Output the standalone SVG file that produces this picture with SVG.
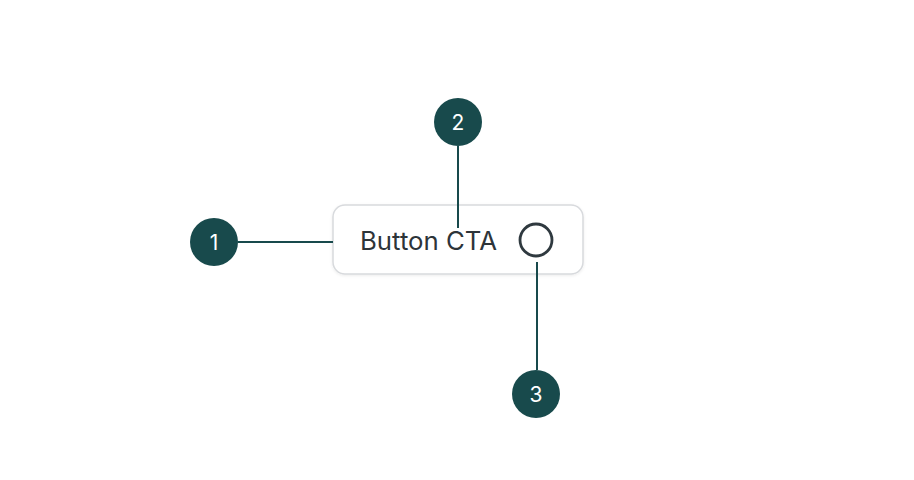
<svg xmlns="http://www.w3.org/2000/svg" width="914" height="480" viewBox="0 0 914 480">
  <style>
    .badge circle { fill: #184a4c; }
    .badge text { fill: #ffffff; font-family: Inter, "Liberation Sans", sans-serif; font-size: 21px; text-anchor: middle; }
    .conn line { stroke: #184a4c; stroke-width: 2; }
  </style>
  <defs>
    <filter id="sh" x="-10%" y="-20%" width="120%" height="150%">
      <feDropShadow dx="0" dy="1" stdDeviation="1.5" flood-color="#000" flood-opacity="0.08"/>
    </filter>
  </defs>
  <rect width="914" height="480" fill="#ffffff"/>
  <g id="button">
    <rect x="333" y="205" width="250" height="69" rx="12" fill="#ffffff" stroke="#d8dadd" stroke-width="1.5" filter="url(#sh)"/>
    <text x="360" y="249.5" font-family="Inter, 'Liberation Sans', sans-serif" font-size="25" fill="#2d3439" textLength="137" lengthAdjust="spacingAndGlyphs">Button CTA</text>
    <circle cx="536" cy="240" r="16" fill="none" stroke="#2f393f" stroke-width="2.8"/>
  </g>
  <g id="connectors" class="conn">
    <line x1="238" y1="242" x2="333" y2="242"/>
    <line x1="458" y1="146" x2="458" y2="228"/>
    <line x1="537" y1="262" x2="537" y2="370"/>
  </g>
  <g id="badge1" class="badge">
    <circle cx="214" cy="242" r="24"/>
    <text x="214" y="249.5">1</text>
  </g>
  <g id="badge2" class="badge">
    <circle cx="458" cy="122" r="24"/>
    <text x="458" y="129.5">2</text>
  </g>
  <g id="badge3" class="badge">
    <circle cx="536" cy="394" r="24"/>
    <text x="536" y="401.5">3</text>
  </g>
</svg>
